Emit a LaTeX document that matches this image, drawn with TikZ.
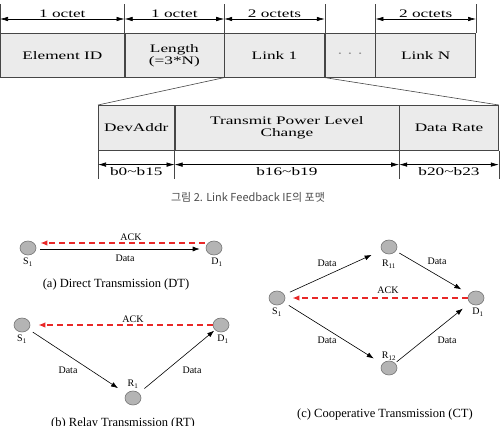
\documentclass[tikz,border=0pt]{standalone}
\usepackage{fontspec}
\setmainfont{Liberation Serif}
\newfontfamily\widefont[FakeStretch=1.5]{Liberation Serif}
\newfontfamily\hangulfont{Noto Sans CJK KR}
\usepackage{tikz}
\usetikzlibrary{arrows.meta,calc,shapes.geometric}
\definecolor{cellGray} {RGB}{235,235,235}
\definecolor{ruleGray} {RGB}{ 70, 70, 70}
\definecolor{ackRed}   {RGB}{232, 40, 40}
\definecolor{nodeGray} {RGB}{180,180,180}

\begin{document}
\begin{tikzpicture}[x=1pt,y=-1pt,
    cell/.style={draw=ruleGray,fill=cellGray,line width=0.6pt,inner sep=0pt,
      anchor=north west,align=center,
      font=\widefont\fontsize{11.5}{12}\selectfont},
    rule/.style={ruleGray,line width=0.6pt},
    octet/.style={{Latex[length=8pt,width=4.5pt]}-{Latex[length=8pt,width=4.5pt]},line width=0.6pt},
    width/.style={font=\widefont\fontsize{11.5}{12}\selectfont,inner sep=1pt},
    station/.style={ellipse,draw=black!55,fill=nodeGray,minimum width=16,minimum height=14,inner sep=0pt,line width=0.6pt},
    datalink/.style={-{Latex[length=7pt,width=5pt]},line width=0.6pt},
    acklink/.style={-{Latex[length=7pt,width=5.5pt]},ackRed,dashed,dash pattern=on 6pt off 4pt,line width=1.5pt},
    tag/.style={font=\fontsize{10}{11}\selectfont,inner sep=0pt},
    subcap/.style={font=\fontsize{12.5}{14}\selectfont,anchor=base,inner sep=0pt}]
  \useasboundingbox (0,0) rectangle (502,425);

  % information element
  \node[cell,minimum width=124,minimum height=44] (eid) at (0,33) {Element ID};
  \node[cell,minimum width=99,minimum height=44]  (len) at (eid.north east) {Length\\(=3*N)};
  \node[cell,minimum width=100,minimum height=44] (lnk1) at (len.north east) {Link 1};
  \node[cell,minimum width=50,minimum height=44,text=gray] (dots) at (lnk1.north east) {· · ·};
  \node[cell,minimum width=100,minimum height=44] (lnkN) at (dots.north east) {Link N};
  \draw[rule] (eid.north west) -- ++(0,-29);
  \foreach \c in {eid,len,lnk1,dots,lnkN}
    \draw[rule] (\c.north east) -- ++(0,-29);
  \foreach \c/\w in {eid/1 octet,len/1 octet,lnk1/2 octets,lnkN/2 octets}
    \draw[octet] ([yshift=14]\c.north west) -- node[width,above] {\w} ([yshift=14]\c.north east);

  % link field
  \node[cell,minimum width=76,minimum height=45]  (dev) at (98,105) {DevAddr};
  \node[cell,minimum width=224,minimum height=45] (tpl) at (dev.north east) {Transmit Power Level\\Change};
  \node[cell,minimum width=99,minimum height=45]  (rate) at (tpl.north east) {Data Rate};
  \draw[rule] (dev.south west) -- ++(0,28);
  \foreach \c in {dev,tpl,rate}
    \draw[rule] (\c.south east) -- ++(0,28);
  \foreach \c/\w in {dev/b0\textasciitilde b15,tpl/b16\textasciitilde b19,rate/b20\textasciitilde b23}
    \draw[octet] ([yshift=-14]\c.south west) -- node[width,below=2pt] {\w} ([yshift=-14]\c.south east);
  \draw[rule] (lnk1.south west) -- (dev.north west);
  \draw[rule] (lnk1.south east) -- (rate.north east);

  \node[font=\hangulfont\fontsize{11}{13}\selectfont,text=black!70] (figcap) at (248,197)
    {그림 2. Link Feedback IE의 포맷};

  % (a) direct
  \node[station] (aS) at (28,248) {};
  \node[station] (aD) at (214,248) {};
  \draw[acklink,shorten <=1pt,shorten >=4pt] ([yshift=5]aD.west) -- ([yshift=5]aS.east);
  \draw[datalink,shorten <=4pt,shorten >=6pt] ([yshift=-1]aS.east) -- ([yshift=-1]aD.west);
  \node[tag] (aAck) at (131,237) {ACK};
  \node[tag] (aData) at (125,258) {Data};
  \node[tag] (aSl) at (28,262) {S\textsubscript{1}};
  \node[tag] (aDl) at (217,262) {D\textsubscript{1}};
  \node[subcap] (aCap) at (116,287) {(a) Direct Transmission (DT)};

  % (b) relay
  \node[station] (bS) at (22,325) {};
  \node[station] (bD) at (221,325) {};
  \node[station] (bR) at (133,398) {};
  \draw[acklink,shorten >=8pt] (bD) -- (bS);
  \draw[datalink,shorten <=5pt,shorten >=10pt] (bS) -- (bR);
  \draw[datalink,shorten <=7pt,shorten >=1pt] (bR) -- (bD);
  \node[tag] (bAck) at (133,319) {ACK};
  \node[tag] (bData1) at (68,370) {Data};
  \node[tag] (bData2) at (192,370) {Data};
  \node[tag] (bSl) at (22,339) {S\textsubscript{1}};
  \node[tag] (bDl) at (223,339) {D\textsubscript{1}};
  \node[tag] (bRl) at (133,384) {R\textsubscript{1}};
  \node[subcap] (bCap) at (123,426) {(b) Relay Transmission (RT)};

  % (c) cooperative
  \node[station] (cS) at (277,298) {};
  \node[station] (cRa) at (389,247) {};
  \node[station] (cD) at (476,298) {};
  \node[station] (cRb) at (389,368) {};
  \draw[acklink,shorten >=7pt] (cD) -- (cS);
  \draw[datalink,shorten <=6pt,shorten >=11pt] (cS) -- (cRa);
  \draw[datalink,shorten <=4pt,shorten >=9pt] (cRa) -- (cD);
  \draw[datalink,shorten <=6pt,shorten >=10pt] (cS) -- (cRb);
  \draw[datalink,shorten <=2pt,shorten >=9pt] (cRb) -- (cD);
  \node[tag] (cAck) at (388,290) {ACK};
  \node[tag] (cData1) at (327,263) {Data};
  \node[tag] (cData2) at (437,261) {Data};
  \node[tag] (cData3) at (327,340) {Data};
  \node[tag] (cData4) at (447,340) {Data};
  \node[tag] (cSl) at (277,312) {S\textsubscript{1}};
  \node[tag] (cDl) at (478,312) {D\textsubscript{1}};
  \node[tag] (cRal) at (389,264) {R\textsubscript{11}};
  \node[tag] (cRbl) at (389,356) {R\textsubscript{12}};
  \node[subcap] (cCap) at (385,417) {(c) Cooperative Transmission (CT)};
\end{tikzpicture}
\end{document}
